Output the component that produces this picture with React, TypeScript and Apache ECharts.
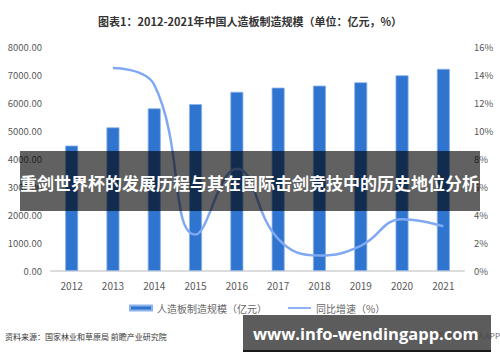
import React, { useEffect, useRef } from "react";
import * as echarts from "echarts";

const years = ["2012", "2013", "2014", "2015", "2016", "2017", "2018", "2019", "2020", "2021"];
const scaleValues = [4480, 5130, 5810, 5960, 6400, 6550, 6620, 6740, 6990, 7220];
const growthValues: (number | null)[] = [null, 14.5, 13.3, 2.6, 7.3, 2.3, 1.1, 1.8, 3.7, 3.2];
const barName = "人造板制造规模（亿元）";
const lineName = "同比增速（%）";
const titleText = "图表1：2012-2021年中国人造板制造规模（单位：亿元，%）";
const sourceText = "资料来源：国家林业和草原局 前瞻产业研究院";
const appText = "@前瞻经济学人APP";
const bannerText = "重剑世界杯的发展历程与其在国际击剑竞技中的历史地位分析";
const urlText = "www.info-wendingapp.com";

const FONT = "'Noto Sans CJK SC', 'Noto Sans', sans-serif";

export default function App() {
  const ref = useRef<HTMLDivElement>(null);
  useEffect(() => {
    if (!ref.current) return;
    const chart = echarts.init(ref.current, undefined, { renderer: "svg" });
    chart.setOption({
      animation: false,
      backgroundColor: "#ffffff",
      textStyle: { fontFamily: FONT },
      title: {
        text: titleText,
        left: "center",
        top: 10,
        textStyle: { fontSize: 11, fontWeight: "bold", color: "#333", fontFamily: FONT },
      },
      grid: { left: 51, right: 36, top: 47, height: 224 },
      legend: [
        {
          left: 124,
          top: 298,
          itemWidth: 22,
          itemHeight: 5,
          textStyle: { fontSize: 10, color: "#666", fontFamily: FONT },
          data: [{ name: barName, icon: "rect" }],
        },
        {
          left: 283,
          top: 298,
          itemWidth: 23,
          itemHeight: 2,
          textStyle: { fontSize: 10, color: "#666", fontFamily: FONT },
          data: [{ name: lineName, icon: "rect" }],
        },
      ],
      xAxis: {
        type: "category",
        data: years,
        axisLine: { show: true, lineStyle: { color: "#dcdcdc", width: 2 } },
        axisTick: { show: false },
        axisLabel: { color: "#595959", fontSize: 10, margin: 9 },
      },
      yAxis: [
        {
          type: "value",
          min: 0,
          max: 8000,
          interval: 1000,
          splitLine: { show: false },
          axisLine: { show: false },
          axisTick: { show: false },
          axisLabel: {
            color: "#595959",
            fontSize: 9.5,
            margin: 9,
            formatter: (v: number) => v.toFixed(2),
          },
        },
        {
          type: "value",
          min: 0,
          max: 16,
          interval: 2,
          splitLine: { show: false },
          axisLine: { show: false },
          axisTick: { show: false },
          axisLabel: { color: "#595959", fontSize: 9.5, margin: 10, formatter: "{value}%" },
        },
      ],
      series: [
        {
          name: barName,
          type: "bar",
          data: scaleValues,
          barWidth: 13,
          itemStyle: { color: "#2f74cf", borderColor: "#8db3ea", borderWidth: 0.8 },
        },
        {
          name: lineName,
          type: "line",
          yAxisIndex: 1,
          data: growthValues,
          smooth: 0.45,
          symbol: "none",
          connectNulls: false,
          lineStyle: { color: "#80a8f3", width: 2.5 },
          itemStyle: { color: "#8fb2f4" },
        },
      ],
      graphic: [
        {
          type: "text",
          left: 5,
          top: 332,
          style: { text: sourceText, fontSize: 8, fill: "#333", fontFamily: FONT },
        },
        {
          type: "text",
          right: 0,
          top: 331,
          style: { text: appText, fontSize: 8, fill: "#666", fontFamily: FONT },
        },
        {
          type: "rect",
          shape: { x: 20, y: 151, width: 460, height: 60 },
          style: { fill: "rgba(0,0,0,0.62)" },
          z: 100,
        },
        {
          type: "text",
          x: 20,
          y: 182,
          z: 101,
          style: {
            text: bannerText,
            fontSize: 17,
            fontWeight: "bold",
            fill: "#ffffff",
            textVerticalAlign: "middle",
            fontFamily: FONT,
          },
        },
        {
          type: "rect",
          shape: { x: 243, y: 315, width: 248, height: 37 },
          style: { fill: "rgba(70,70,70,0.88)" },
          z: 100,
        },
        {
          type: "rect",
          shape: { x: 243, y: 350, width: 248, height: 2 },
          style: { fill: "#1a1a1a" },
          z: 100,
        },
        {
          type: "text",
          x: 253,
          y: 333,
          z: 101,
          style: {
            text: urlText,
            fontSize: 16.5,
            fontWeight: "bold",
            fill: "#ffffff",
            textVerticalAlign: "middle",
            fontFamily: "'Open Sans', 'Noto Sans', sans-serif",
          },
        },
      ],
    });
    return () => chart.dispose();
  }, []);
  return (
    <div
      ref={ref}
      style={{ position: "fixed", left: 0, top: 0, width: 500, height: 362 }}
    />
  );
}
